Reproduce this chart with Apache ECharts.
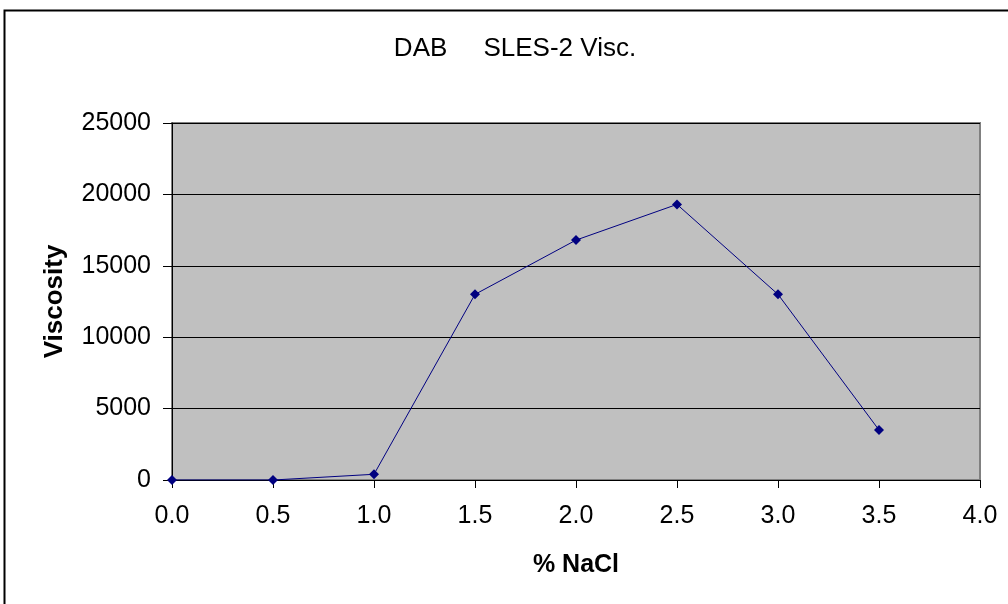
<!DOCTYPE html>
<html>
<head>
<meta charset="utf-8">
<script src="https://cdn.jsdelivr.net/npm/echarts@6/dist/echarts.min.js"></script>
<style>
  html, body { margin: 0; padding: 0; background: #fff; }
  #chart { width: 1008px; height: 604px; }
</style>
</head>
<body>
<div id="chart"></div>
<script>
/* === Data === */
const NACL = [0.0, 0.5, 1.0, 1.5, 2.0, 2.5, 3.0, 3.5];
const VISCOSITY = [0, 0, 400, 13000, 16800, 19300, 13000, 3500];

const FONT = "'Liberation Sans', Arial, sans-serif";

function initChart() {
  const el = document.getElementById('chart');
  const chart = echarts.init(el);
  chart.setOption({
    backgroundColor: '#fff',
    animation: false,
    title: {
      text: 'DAB     SLES-2 Visc.',
      left: 510, top: 31, textAlign: 'center',
      textStyle: { fontFamily: FONT, fontSize: 26, fontWeight: 'normal', color: '#000' }
    },
    graphic: [{
      type: 'rect',
      shape: { x: 4.5, y: 10.5, width: 1010, height: 600 },
      style: { fill: 'none', stroke: '#000', lineWidth: 2 }
    }],
    grid: {
      left: 172, right: 28, top: 123, bottom: 124,
      show: true, backgroundColor: '#c0c0c0', borderColor: '#808080', borderWidth: 2
    },
    xAxis: {
      type: 'value',
      min: 0, max: 4, interval: 0.5,
      name: '% NaCl', nameLocation: 'middle', nameGap: 73,
      nameTextStyle: { fontFamily: FONT, fontSize: 25, fontWeight: 'bold', color: '#000' },
      axisLine: { show: true, lineStyle: { color: '#000', width: 1 } },
      axisTick: { show: true, length: 8, lineStyle: { color: '#000' } },
      axisLabel: {
        color: '#000', fontFamily: FONT, fontSize: 25, margin: 24,
        formatter: v => v.toFixed(1)
      },
      splitLine: { show: false }
    },
    yAxis: {
      type: 'value',
      min: 0, max: 25000, interval: 5000,
      name: 'Viscosity', nameLocation: 'middle', nameGap: 104, nameRotate: 90,
      nameTextStyle: { fontFamily: FONT, fontSize: 26, fontWeight: 'bold', color: '#000' },
      axisLine: { show: true, lineStyle: { color: '#000', width: 1 } },
      axisTick: { show: true, length: 9, lineStyle: { color: '#000' } },
      axisLabel: {
        color: '#000', fontFamily: FONT, fontSize: 25, margin: 21,
        formatter: v => String(v)
      },
      splitLine: { show: true, lineStyle: { color: '#000', width: 1 } }
    },
    series: [{
      type: 'line',
      data: NACL.map((x, i) => [x, VISCOSITY[i]]),
      symbol: 'diamond',
      symbolSize: 10,
      itemStyle: { color: '#000080' },
      lineStyle: { color: '#000080', width: 1 }
    }]
  });
}

initChart();
</script>
</body>
</html>
